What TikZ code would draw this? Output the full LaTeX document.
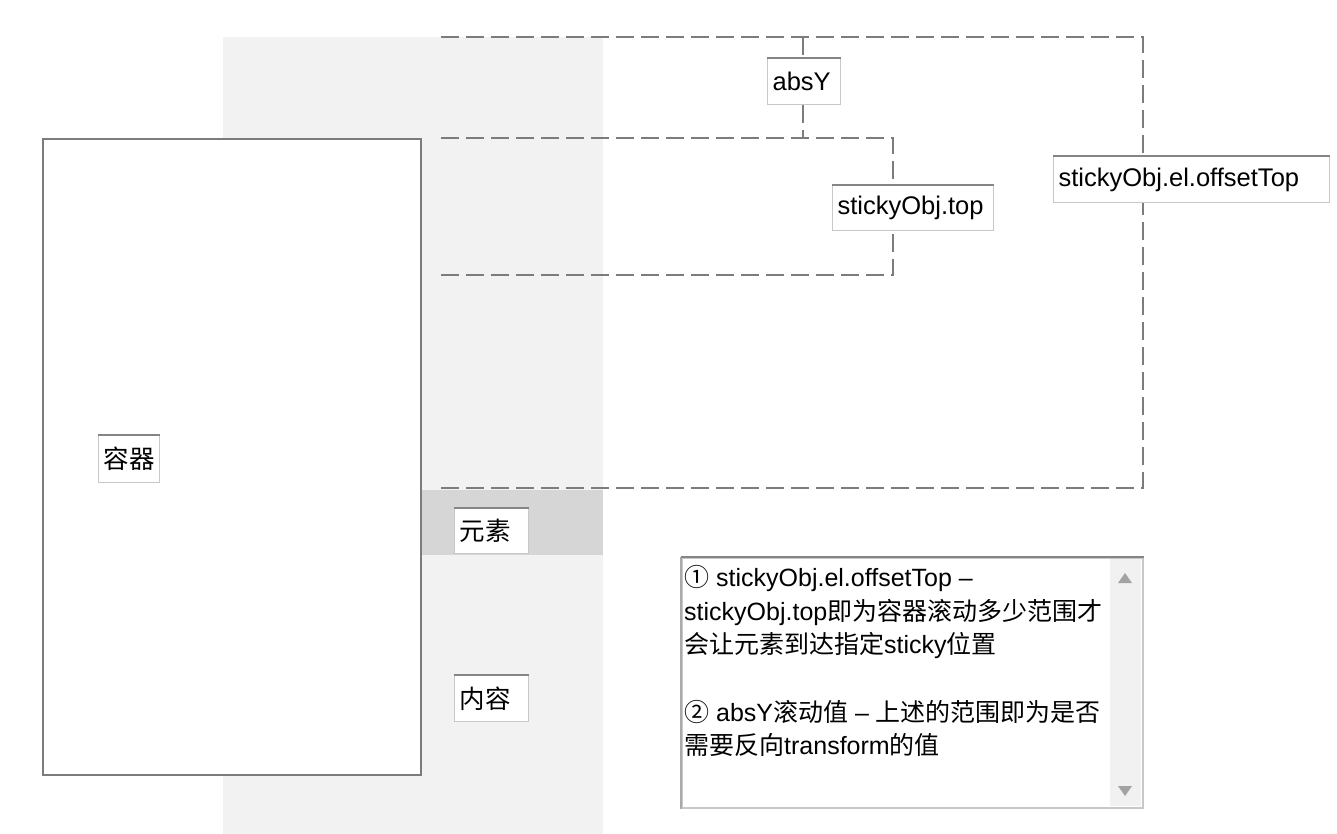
\documentclass[tikz,border=0pt]{standalone}
\usepackage{fontspec}
\setmainfont{Liberation Sans}
\newfontfamily\cjk{Noto Sans CJK SC}
\definecolor{stripgray}{HTML}{F2F2F2}
\definecolor{bandgray}{HTML}{D6D6D6}
\definecolor{linegray}{HTML}{7C7C7C}
\definecolor{boxlight}{HTML}{C8C8C8}
\definecolor{boxtop}{HTML}{858585}
\definecolor{scrollgray}{HTML}{F1F1F1}
\definecolor{arrowgray}{HTML}{A3A3A3}
\begin{document}
\begin{tikzpicture}[x=1pt,y=-1pt,
  dline/.style={draw=linegray, line width=2, dash pattern=on 18 off 7},
  topedge/.style={draw=boxtop, line width=2.6},
  inbox/.style={draw=boxlight, fill=white, line width=1.2, inner xsep=5, inner ysep=0,
    align=left, anchor=north west, font=\fontsize{25.5}{30}\selectfont},
  tline/.style={anchor=base west, inner sep=0, font=\fontsize{25}{30}\selectfont}
]
\useasboundingbox (0,0) rectangle (1337,834);
% background strip and element band
\fill[stripgray] (223,37) rectangle (603,834);
\fill[bandgray] (223,490) rectangle (603,555);
% container
\node[draw=linegray, line width=2, fill=white, minimum width=378, minimum height=636, inner sep=0] (box) at (232,457) {};
% label boxes
\node[inbox, text width=51, minimum height=47] (rq) at (98,435) {\cjk 容器};
\node[inbox, text width=63, minimum height=46] (absy) at (767,58) {absY};
\node[inbox, text width=151, minimum height=45] (st) at (832,185) {stickyObj.top};
\node[inbox, text width=266, minimum height=46] (ot) at (1053,156) {stickyObj.el.offsetTop};
\node[inbox, text width=64, minimum height=45] (ys) at (454,508) {\cjk 元素};
\node[inbox, text width=64, minimum height=46] (nr) at (454,675) {\cjk 内容};
% dashed brackets
\coordinate (L1) at (441,37);
\coordinate (R1) at (1143,37);
\coordinate (A1) at (803,37);
\coordinate (A2) at (803,138);
\coordinate (L2) at (441,138);
\coordinate (B2) at (893,138);
\coordinate (B3) at (893,275);
\coordinate (L3) at (441,275);
\coordinate (R4) at (1143,488);
\coordinate (L4) at (441,488);
\draw[dline] (L1) -- (R1) -- (R1 |- ot.north);
\draw[dline] (L4) -- (R4) -- (ot.south -| R1);
\draw[dline] (A1) -- (A1 |- absy.north);
\draw[dline] (absy.south -| A1) -- (A2);
\draw[dline] (L2) -- (B2) -- (B2 |- st.north);
\draw[dline] (L3) -- (B3) -- (st.south -| B2);
% textarea
\node[draw=boxlight, fill=white, line width=1.5, minimum width=461, minimum height=250, inner sep=0, anchor=north west] (ta) at (681,557) {};
\draw[draw=boxlight!85!black, line width=1.8] (ta.north west) -- (ta.south west);
\fill[scrollgray] (1110,559) rectangle (1141,806);
\fill[arrowgray] (1118,583) -- (1132,583) -- (1125,573) -- cycle;
\fill[arrowgray] (1118,786) -- (1132,786) -- (1125,796) -- cycle;
% darker top edges of the input boxes
\foreach \n in {rq,absy,st,ot,ys,nr,ta}
  \draw[topedge] (\n.north west) -- (\n.north east);
\node[tline] (t1) at (684,586) {{\cjk ①} stickyObj.el.offsetTop –};
\node[tline] (t2) at (684,620) {stickyObj.top{\cjk 即为容器滚动多少范围才}};
\node[tline] (t3) at (684,653) {{\cjk 会让元素到达指定}sticky{\cjk 位置}};
\node[tline] (t5) at (684,721) {{\cjk ②} absY{\cjk 滚动值} – {\cjk 上述的范围即为是否}};
\node[tline] (t6) at (684,754) {{\cjk 需要反向}transform{\cjk 的值}};
\end{tikzpicture}
\end{document}
